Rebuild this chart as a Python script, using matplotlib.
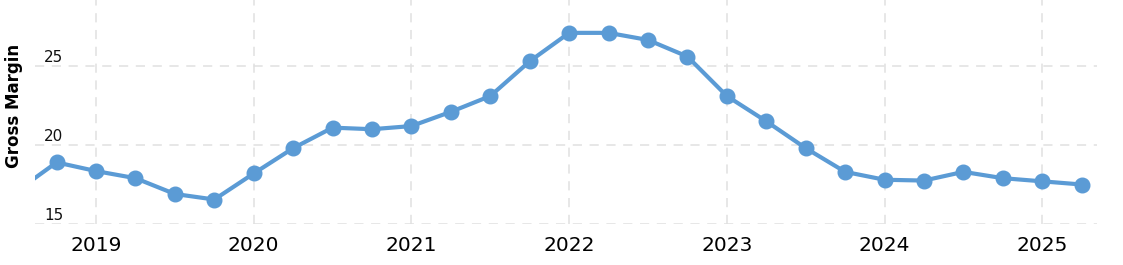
import numpy as np
import matplotlib
matplotlib.use("Agg")
import matplotlib.pyplot as plt
from matplotlib.transforms import blended_transform_factory

# 季度毛利率 (%)
quarters = np.arange(2018.5, 2025.26, 0.25)
margin = [17.1, 18.9, 18.35, 17.9, 16.9, 16.55, 18.2, 19.8, 21.1, 21.0,
          21.2, 22.1, 23.1, 25.3, 27.1, 27.1, 26.65, 25.6, 23.1, 21.5,
          19.8, 18.3, 17.8, 17.75, 18.3, 17.9, 17.7, 17.5]
year_ticks = [2019, 2020, 2021, 2022, 2023, 2024, 2025]
y_ticks = [15, 20, 25]

W, H = 1123, 265
fig = plt.figure(figsize=(W / 100, H / 100), dpi=100)
ax = fig.add_axes([35 / W, (H - 224) / H, (1097 - 35) / W, 224 / H])

ax.plot(quarters, margin, "-o", color="#5b9bd5", lw=3, ms=10.5, zorder=3)

ax.set_xlim(2018.613, 2025.347)
ax.set_ylim(15, 29.18)
ax.set_xticks(year_ticks)
ax.set_xticklabels([str(y) for y in year_ticks], fontsize=14.5)
ax.set_yticks(y_ticks)
ax.set_yticklabels([])
ax.tick_params(axis="both", length=0)
ax.tick_params(axis="x", pad=8.5)
ax.grid(True, ls=(0, (6, 5)), color="#e0e0e0", lw=1.1)
for s in ax.spines.values():
    s.set_visible(False)

tr = blended_transform_factory(ax.transAxes, ax.transData)
for v in y_ticks:
    ax.annotate(str(v), (0, v), xycoords=tr, xytext=(6.5, 1),
                textcoords="offset points", ha="left", va="bottom",
                fontsize=11, color="#111111")

fig.text(14 / W, 1 - 106 / H, "Gross Margin", rotation=90, ha="center",
         va="center", fontsize=12, fontweight="bold")

fig.savefig("out.png", dpi=100)
